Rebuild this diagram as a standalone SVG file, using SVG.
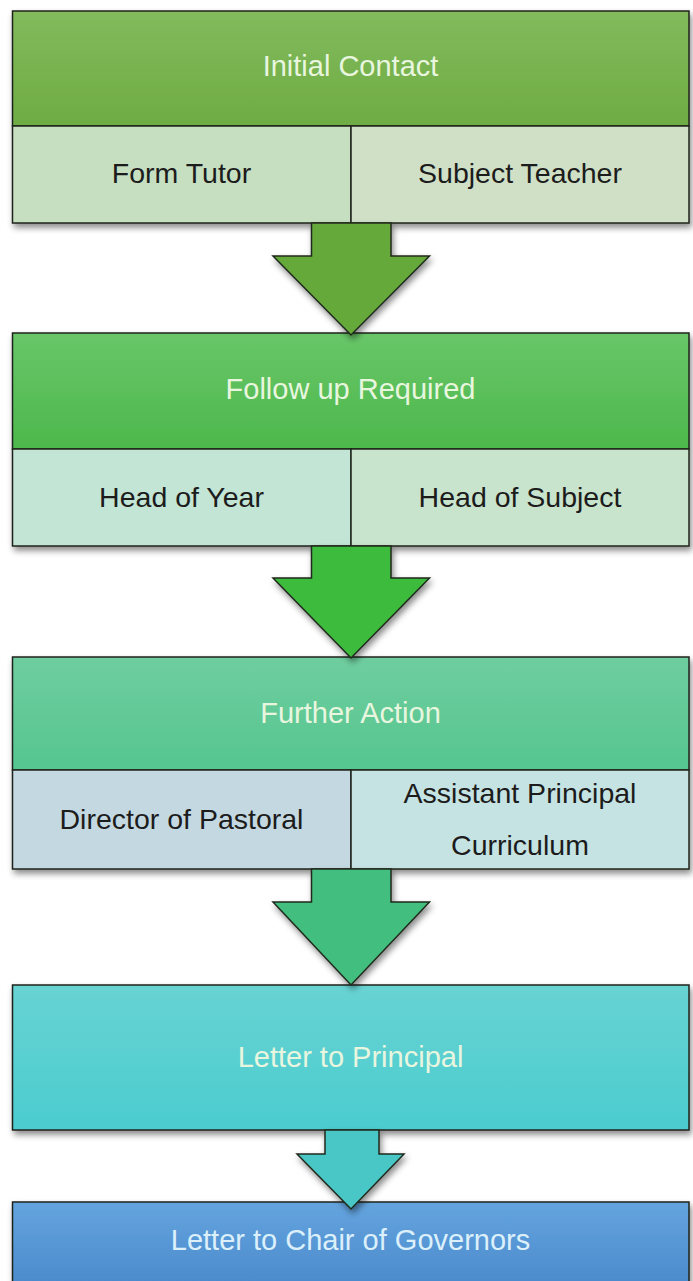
<svg xmlns="http://www.w3.org/2000/svg" width="693" height="1281" viewBox="0 0 693 1281">
<defs>
<linearGradient id="g1" x1="0" y1="0" x2="0" y2="1"><stop offset="0" stop-color="#82ba5c"/><stop offset="1" stop-color="#6eac44"/></linearGradient>
<linearGradient id="g2" x1="0" y1="0" x2="0" y2="1"><stop offset="0" stop-color="#68c668"/><stop offset="1" stop-color="#4db84c"/></linearGradient>
<linearGradient id="g3" x1="0" y1="0" x2="0" y2="1"><stop offset="0" stop-color="#6fcd9f"/><stop offset="1" stop-color="#55c68f"/></linearGradient>
<linearGradient id="g4" x1="0" y1="0" x2="0" y2="1"><stop offset="0" stop-color="#68d3d3"/><stop offset="1" stop-color="#4bcccf"/></linearGradient>
<linearGradient id="g5" x1="0" y1="0" x2="0" y2="1"><stop offset="0" stop-color="#64a4de"/><stop offset="1" stop-color="#4988cb"/></linearGradient>
<filter id="sh" x="-5%" y="-5%" width="112%" height="125%"><feDropShadow dx="2" dy="4" stdDeviation="3" flood-color="#000" flood-opacity="0.45"/></filter>
</defs>
<style>
.box{stroke:#1f241c;stroke-width:1.5}
.div{stroke:#1f241c;stroke-width:1.2}
.arr{stroke:#1f2a1c;stroke-width:1.5;stroke-linejoin:miter}
.hd{font-family:"Liberation Sans",Arial,sans-serif;font-size:29px;fill:#e9f6df;text-anchor:middle}
.sb{font-family:"Liberation Sans",Arial,sans-serif;font-size:28.5px;fill:#1c1c1c;text-anchor:middle}
</style>
<rect width="693" height="1281" fill="#ffffff"/>

<g id="node-initial-contact">
<g filter="url(#sh)">
<rect class="box" x="12.5" y="11" width="676.5" height="115" fill="url(#g1)"/>
<rect class="box" x="12.5" y="126" width="338.5" height="97" fill="#c6dfc0"/>
<rect class="box" x="351" y="126" width="338" height="97" fill="#d0e0c6"/>
</g>
<text class="hd" x="350.5" y="76">Initial Contact</text>
<text class="sb" x="181.5" y="183">Form Tutor</text>
<text class="sb" x="520" y="183">Subject Teacher</text>
</g>

<g id="node-follow-up">
<g filter="url(#sh)">
<rect class="box" x="12.5" y="333" width="676.5" height="116" fill="url(#g2)"/>
<rect class="box" x="12.5" y="449" width="338.5" height="97" fill="#c3e5d5"/>
<rect class="box" x="351" y="449" width="338" height="97" fill="#c9e4cd"/>
</g>
<text class="hd" x="350.5" y="399">Follow up Required</text>
<text class="sb" x="181.5" y="507">Head of Year</text>
<text class="sb" x="520" y="507">Head of Subject</text>
</g>

<g id="node-further-action">
<g filter="url(#sh)">
<rect class="box" x="12.5" y="657" width="676.5" height="113" fill="url(#g3)"/>
<rect class="box" x="12.5" y="770" width="338.5" height="99" fill="#c4d8e1"/>
<rect class="box" x="351" y="770" width="338" height="99" fill="#c6e3e3"/>
</g>
<text class="hd" x="350.5" y="723">Further Action</text>
<text class="sb" x="181.5" y="829">Director of Pastoral</text>
<text class="sb" x="520" y="803">Assistant Principal</text>
<text class="sb" x="520" y="855">Curriculum</text>
</g>

<g id="node-letter-principal">
<rect class="box" filter="url(#sh)" x="12.5" y="985" width="676.5" height="145" fill="url(#g4)"/>
<text class="hd" x="350.5" y="1067">Letter to Principal</text>
</g>

<g id="node-letter-chair">
<rect class="box" filter="url(#sh)" x="12.5" y="1202" width="676.5" height="90" fill="url(#g5)"/>
<text class="hd" x="350.5" y="1250" style="fill:#dcf0fb">Letter to Chair of Governors</text>
</g>

<g id="connectors">
<polygon class="arr" filter="url(#sh)" points="311.5,223 391,223 391,256 429.5,256 351,335 273,256 311.5,256" fill="#66a93b"/>
<polygon class="arr" filter="url(#sh)" points="311.5,546 391,546 391,578 429.5,578 351,658 273,578 311.5,578" fill="#3dbb3d"/>
<polygon class="arr" filter="url(#sh)" points="311.5,869 391,869 391,902 429.5,902 351,985 273,902 311.5,902" fill="#42bf7e"/>
<polygon class="arr" filter="url(#sh)" points="325,1130 379,1130 379,1154 404,1154 351,1209 297,1154 325,1154" fill="#48c6c6"/>
</g>
</svg>
